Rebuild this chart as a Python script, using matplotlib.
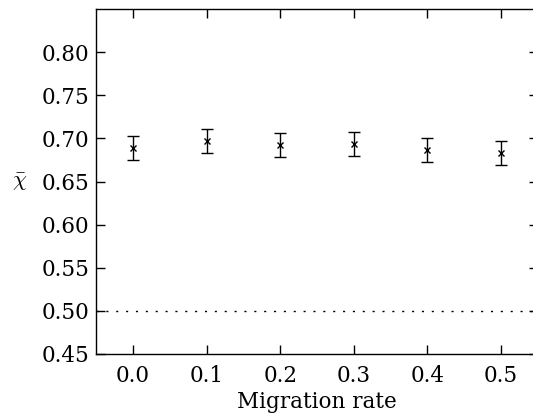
import matplotlib
matplotlib.use("Agg")
import matplotlib.pyplot as plt

migration = [0.0, 0.1, 0.2, 0.3, 0.4, 0.5]
chi_mean = [0.689, 0.697, 0.692, 0.694, 0.687, 0.683]
chi_err = [0.014, 0.014, 0.014, 0.014, 0.014, 0.014]
xticks = [0.0, 0.1, 0.2, 0.3, 0.4, 0.5]
yticks = [0.45, 0.50, 0.55, 0.60, 0.65, 0.70, 0.75, 0.80]
baseline = 0.5

plt.rcParams['font.family'] = 'DejaVu Serif'
plt.rcParams['mathtext.fontset'] = 'cm'

fig = plt.figure(figsize=(5.33, 4.13), dpi=100)
ax = fig.add_axes([0.1807, 0.1429, 0.828, 0.835])

ax.errorbar(migration, chi_mean, yerr=chi_err, fmt='x', color='black',
            ecolor='black', elinewidth=1.0, capsize=4, capthick=1.0,
            markersize=5, markeredgewidth=1.0)
ax.axhline(baseline, color='black', lw=1.0, linestyle=(0, (1.5, 5.6)))

ax.set_xlim(-0.05, 0.55)
ax.set_ylim(0.45, 0.85)
ax.set_xticks(xticks)
ax.set_xticklabels([f"{v:.1f}" for v in xticks])
ax.set_yticks(yticks)
ax.set_yticklabels([f"{v:.2f}" for v in yticks])

ax.tick_params(direction='in', length=6.5, width=1, top=True, right=True,
               labelsize=15.5)
ax.tick_params(axis='x', pad=8)
ax.tick_params(axis='y', pad=5)
for s in ax.spines.values():
    s.set_linewidth(1.0)

ax.set_xlabel('Migration rate', fontsize=15.5, labelpad=2.5)
ax.set_ylabel(r'$\bar{\chi}$', fontsize=16, rotation=0, labelpad=16, va='center')

fig.savefig('out.png', dpi=100)
